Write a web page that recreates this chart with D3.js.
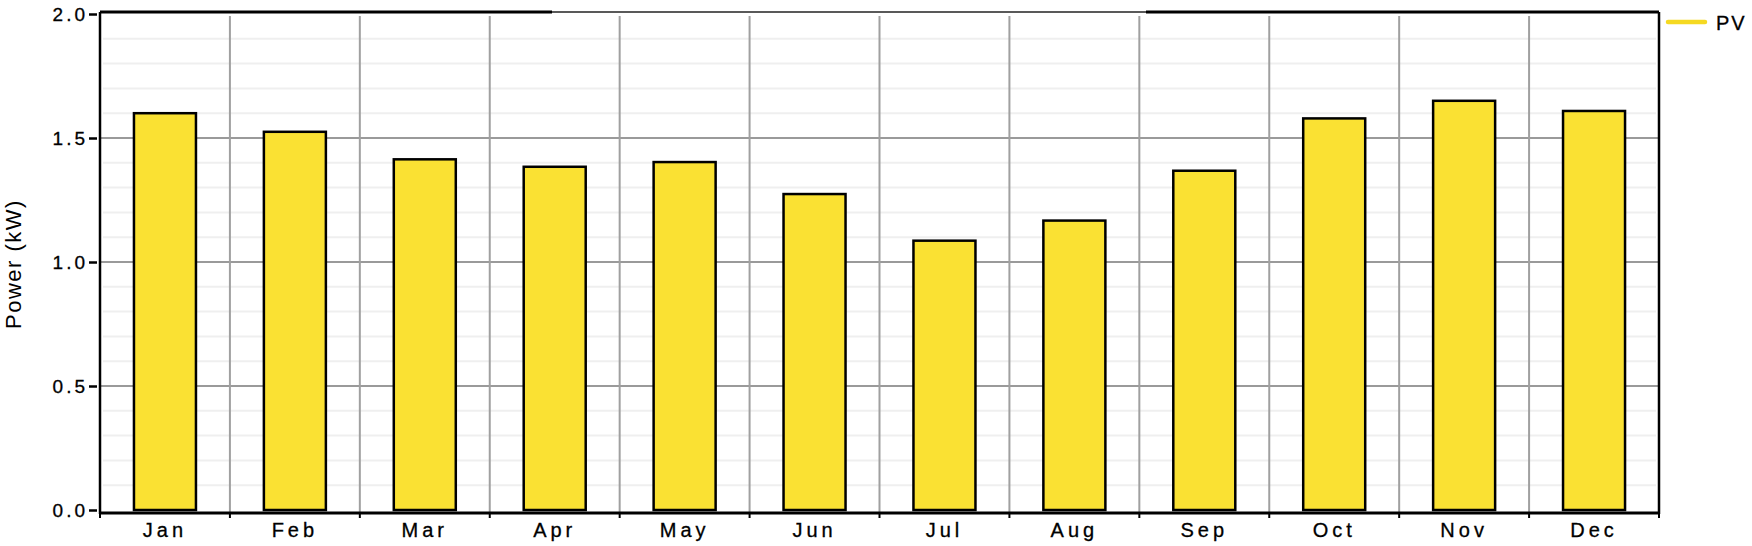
<!DOCTYPE html>
<html>
<head>
<meta charset="utf-8">
<script src="https://cdn.jsdelivr.net/npm/d3@7"></script>
<style>
  html, body { margin: 0; padding: 0; background: #fff; }
  svg { display: block; }
  text { font-family: "Liberation Sans", Arial, sans-serif; fill: #000; }
</style>
</head>
<body>
<svg id="chart" width="1752" height="546"></svg>
<script>
const months = ["Jan","Feb","Mar","Apr","May","Jun","Jul","Aug","Sep","Oct","Nov","Dec"];
const pvValues = [1.60, 1.525, 1.414, 1.384, 1.403, 1.274, 1.086, 1.167, 1.368, 1.579, 1.650, 1.609];
const yTicks = [0.0, 0.5, 1.0, 1.5, 2.0];
const yMinorTicks = d3.range(0, 2.0001, 0.1);
const seriesName = "PV";
const yTitle = "Power (kW)";

(function () {
const svg = d3.select("#chart");
const pLeft = 100, pRight = 1659, pTop = 14, zeroY = 510, frameTop = 12, frameBottom = 513;

const x = d3.scaleBand().domain(months).range([pLeft, pRight]).paddingInner(0).paddingOuter(0);
const y = d3.scaleLinear().domain([0, 2]).range([zeroY, pTop]);

// minor grid
svg.append("g").selectAll("line").data(yMinorTicks.filter(v => Math.round(v*10) % 5 !== 0))
  .join("line")
  .attr("x1", pLeft + 3).attr("x2", pRight - 3)
  .attr("y1", d => y(d)).attr("y2", d => y(d))
  .attr("stroke", "#efefef").attr("stroke-width", 2);

// major grid
svg.append("g").selectAll("line").data(yTicks.filter(v => v > 0 && v < 2))
  .join("line")
  .attr("x1", pLeft).attr("x2", pRight)
  .attr("y1", d => y(d)).attr("y2", d => y(d))
  .attr("stroke", "#9a9a9a").attr("stroke-width", 2);

// vertical grid at category boundaries
const bounds = months.slice(1).map(m => x(m));
svg.append("g").selectAll("line").data(bounds)
  .join("line")
  .attr("x1", d => d).attr("x2", d => d)
  .attr("y1", 16).attr("y2", frameBottom)
  .attr("stroke", "#a0a0a0").attr("stroke-width", 2);

// bars
const bw = 62;
svg.append("g").selectAll("rect").data(months)
  .join("rect")
  .attr("x", (d) => x(d) + x.bandwidth()/2 - bw/2)
  .attr("y", (d, i) => y(pvValues[i]))
  .attr("width", bw)
  .attr("height", (d, i) => zeroY - y(pvValues[i]))
  .attr("fill", "#fae133")
  .attr("stroke", "#000")
  .attr("stroke-width", 2.5);

// frame
const frame = svg.append("g");
frame.append("line").attr("x1", pLeft).attr("x2", pLeft).attr("y1", frameTop).attr("y2", frameBottom + 1)
  .attr("stroke", "#000").attr("stroke-width", 2.5);
frame.append("line").attr("x1", pRight).attr("x2", pRight).attr("y1", frameTop).attr("y2", frameBottom + 1)
  .attr("stroke", "#000").attr("stroke-width", 2.5);
frame.append("line").attr("x1", pLeft).attr("x2", pRight).attr("y1", frameBottom).attr("y2", frameBottom)
  .attr("stroke", "#000").attr("stroke-width", 3);
frame.append("line").attr("x1", pLeft).attr("x2", 552).attr("y1", frameTop).attr("y2", frameTop)
  .attr("stroke", "#000").attr("stroke-width", 3);
frame.append("line").attr("x1", 552).attr("x2", 1146).attr("y1", frameTop).attr("y2", frameTop)
  .attr("stroke", "#222").attr("stroke-width", 1.3);
frame.append("line").attr("x1", 1146).attr("x2", pRight).attr("y1", frameTop).attr("y2", frameTop)
  .attr("stroke", "#000").attr("stroke-width", 3);

// y axis ticks and labels
const yAxis = d3.axisLeft(y).tickValues(yTicks).tickFormat(d3.format(".1f")).tickSize(8).tickPadding(4);
const gy = svg.append("g").attr("transform", `translate(${pLeft - 3},0)`).call(yAxis);
gy.select(".domain").remove();
gy.selectAll(".tick line").attr("stroke", "#000").attr("stroke-width", 2.5);
gy.selectAll(".tick text").attr("font-size", 19).attr("letter-spacing", 3)
  .attr("font-family", "Liberation Sans, Arial, sans-serif").attr("dx", 3)
  .attr("stroke", "#000").attr("stroke-width", 0.3);

// x axis ticks at boundaries and labels
const xt = svg.append("g");
xt.selectAll("line").data([pLeft, ...bounds, pRight]).join("line")
  .attr("x1", d => d).attr("x2", d => d).attr("y1", frameBottom).attr("y2", frameBottom + 5)
  .attr("stroke", "#000").attr("stroke-width", 2);
xt.selectAll("text").data(months).join("text")
  .attr("x", d => x(d) + x.bandwidth()/2)
  .attr("y", 537)
  .attr("text-anchor", "middle")
  .attr("font-size", 20)
  .attr("letter-spacing", 4)
  .attr("stroke", "#000").attr("stroke-width", 0.3)
  .text(d => d);

// y title
svg.append("text")
  .attr("transform", "translate(21,264) rotate(-90)")
  .attr("text-anchor", "middle")
  .attr("font-size", 22)
  .attr("letter-spacing", 1.5)
  .text(yTitle);

// legend
const lg = svg.append("g");
lg.append("line").attr("x1", 1668).attr("x2", 1705).attr("y1", 22).attr("y2", 22)
  .attr("stroke", "#f5d922").attr("stroke-width", 4.5).attr("stroke-linecap", "round");
lg.append("text").attr("x", 1716).attr("y", 30).attr("font-size", 20).attr("letter-spacing", 2)
  .attr("stroke", "#000").attr("stroke-width", 0.3).text(seriesName);
})();
</script>
</body>
</html>
